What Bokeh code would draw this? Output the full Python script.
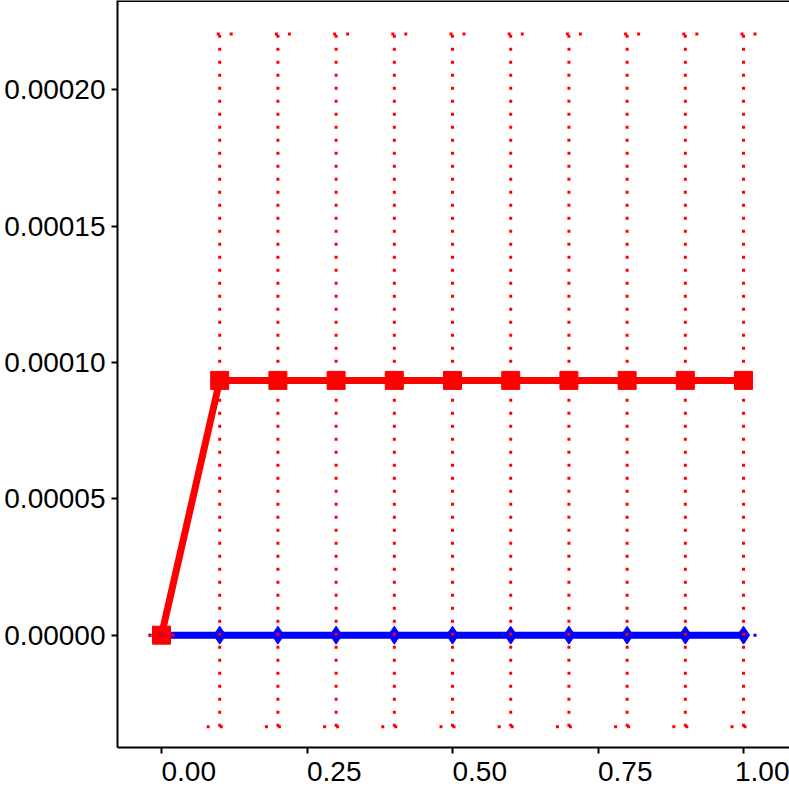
from bokeh.plotting import figure
from bokeh.models import (ColumnDataSource, Whisker, TeeHead, FixedTicker,
                          PrintfTickFormatter, Span)
from bokeh.embed import file_html
from bokeh.resources import INLINE

# ---- data ----
x_vals = [0.0, 0.1, 0.2, 0.3, 0.4, 0.5, 0.6, 0.7, 0.8, 0.9, 1.0]
red_y = [0.0, 9.34e-5, 9.34e-5, 9.34e-5, 9.34e-5, 9.34e-5, 9.34e-5, 9.34e-5, 9.34e-5, 9.34e-5, 9.34e-5]
red_err = [0.0, 1.27e-4, 1.27e-4, 1.27e-4, 1.27e-4, 1.27e-4, 1.27e-4, 1.27e-4, 1.27e-4, 1.27e-4, 1.27e-4]
blue_y = [0.0, 0.0, 0.0, 0.0, 0.0, 0.0, 0.0, 0.0, 0.0, 0.0, 0.0]
blue_err = [0.0, 0.0, 0.0, 0.0, 0.0, 0.0, 0.0, 0.0, 0.0, 0.0, 0.0]
x_ticks = [0.0, 0.25, 0.5, 0.75, 1.0]
x_tick_labels = ["0.00", "0.25", "0.50", "0.75", "1.00"]
y_ticks = [0.0, 0.00005, 0.0001, 0.00015, 0.0002]

X_RANGE = (-0.0756, 1.079)
Y_RANGE = (-4.12e-5, 2.327e-4)
FONT = "Liberation Sans"
LEFT_PAD = "\u00a0" * 7   # no-break spaces: makes the x tick labels start at their tick

red_src = ColumnDataSource(dict(x=x_vals, y=red_y,
                                upper=[v + e for v, e in zip(red_y, red_err)],
                                lower=[v - e for v, e in zip(red_y, red_err)]))
blue_src = ColumnDataSource(dict(x=x_vals, y=blue_y,
                                 upper=[v + e for v, e in zip(blue_y, blue_err)],
                                 lower=[v - e for v, e in zip(blue_y, blue_err)]))

p = figure(width=789, height=789, output_backend="svg", toolbar_location=None,
           x_range=X_RANGE, y_range=Y_RANGE,
           min_border_left=117, min_border_right=0, min_border_top=0, min_border_bottom=0)
p.background_fill_color = "white"
p.border_fill_color = "white"
p.outline_line_color = None
p.xgrid.visible = False
p.ygrid.visible = False

# top frame line
p.add_layout(Span(location=Y_RANGE[1], dimension="width", line_color="black", line_width=3))

# axes
for ax in (p.xaxis[0], p.yaxis[0]):
    ax.axis_line_color = "black"
    ax.axis_line_width = 2
    ax.major_tick_line_color = "black"
    ax.major_tick_line_width = 2
    ax.major_tick_in = 0
    ax.major_tick_out = 6
    ax.minor_tick_line_color = None
    ax.major_label_text_font = FONT
    ax.major_label_text_font_size = "28px"
    ax.major_label_text_color = "black"

p.yaxis.ticker = FixedTicker(ticks=y_ticks)
p.yaxis.formatter = PrintfTickFormatter(format="%.5f")
p.yaxis.major_label_standoff = 6

p.xaxis.ticker = FixedTicker(ticks=x_ticks)
p.xaxis.major_label_overrides = {t: LEFT_PAD + lab for t, lab in zip(x_ticks, x_tick_labels)}
p.xaxis.major_label_standoff = 2

# blue series
p.line("x", "y", source=blue_src, line_color="blue", line_width=7)
p.scatter("x", "y", source=blue_src, marker="diamond", size=18,
          fill_color="blue", line_color="blue")

# red series
p.line("x", "y", source=red_src, line_color="red", line_width=7)
p.scatter("x", "y", source=red_src, marker="square", size=18,
          fill_color="red", line_color="red")

# error bars
for src, col in ((blue_src, "blue"), (red_src, "red")):
    w = Whisker(base="x", upper="upper", lower="lower", source=src, dimension="height",
                line_color=col, line_width=3, line_dash="3 10", level="annotation",
                upper_head=TeeHead(size=26, line_color=col, line_width=3, line_dash="3 10"),
                lower_head=TeeHead(size=26, line_color=col, line_width=3, line_dash="3 10"))
    p.add_layout(w)

open("out.html", "w").write(file_html(p, INLINE))
